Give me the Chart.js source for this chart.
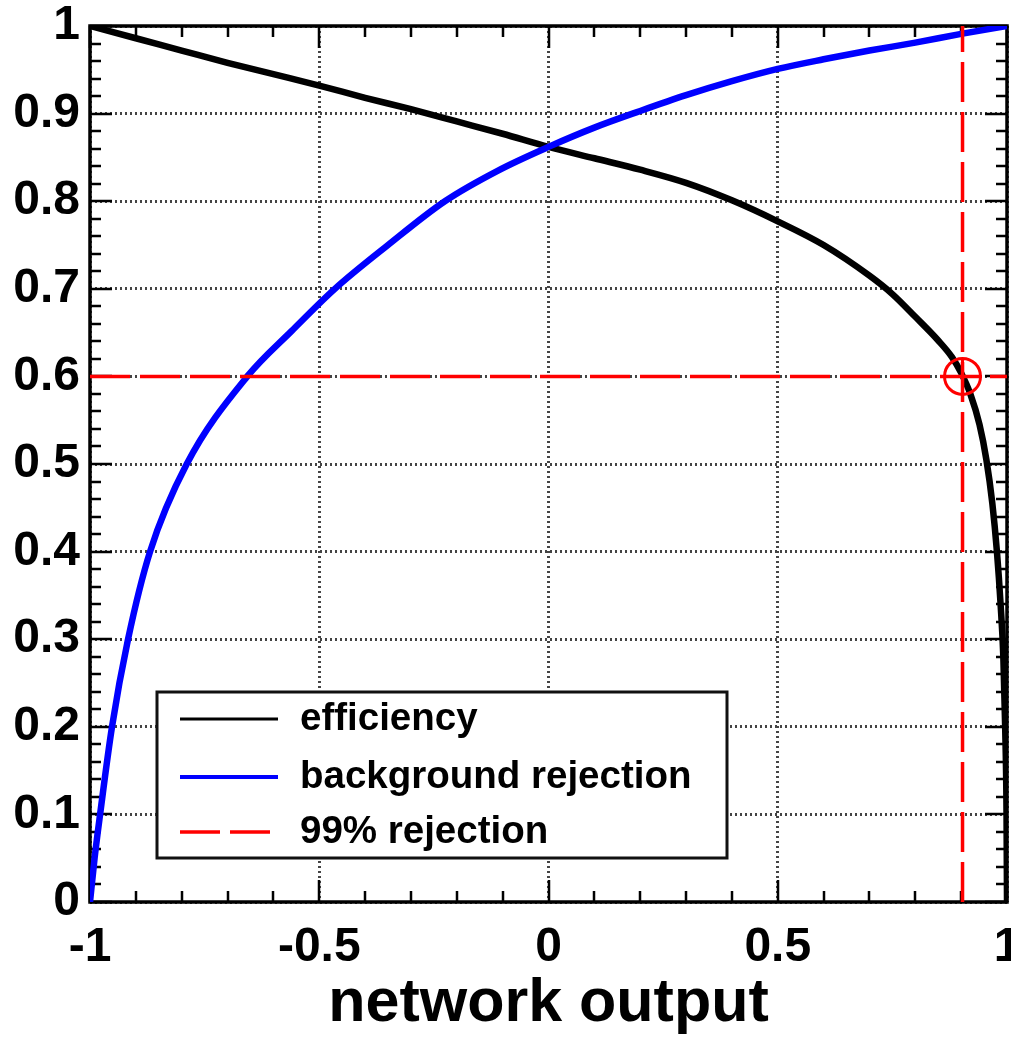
<!DOCTYPE html>
<html>
<head>
<meta charset="utf-8">
<script src="https://cdn.jsdelivr.net/npm/chart.js@4.4.1/dist/chart.umd.min.js"></script>
<style>
  html, body { margin: 0; padding: 0; background: #fff; }
  #roc { display: block; }
</style>
</head>
<body>
<canvas id="roc" width="1011" height="1037"></canvas>
<script>
// signal efficiency vs cut on the network output
const effX = [-1, -0.9, -0.8, -0.7, -0.6, -0.5, -0.4, -0.3, -0.2, -0.1, 0, 0.1, 0.2, 0.3, 0.4, 0.5, 0.6, 0.7, 0.75, 0.8, 0.85, 0.88, 0.9, 0.92, 0.94, 0.955, 0.968, 0.978, 0.986, 0.992, 0.996, 0.999, 1];
const effY = [1, 0.986, 0.972, 0.958, 0.945, 0.932, 0.918, 0.905, 0.891, 0.877, 0.862, 0.849, 0.836, 0.821, 0.801, 0.777, 0.75, 0.715, 0.694, 0.668, 0.641, 0.622, 0.604, 0.58, 0.545, 0.505, 0.455, 0.4, 0.34, 0.28, 0.2, 0.1, 0];

// background rejection vs cut
const rejX = [-1, -0.99, -0.978, -0.952, -0.917, -0.869, -0.789, -0.657, -0.56, -0.466, -0.35, -0.226, -0.11, 0, 0.1, 0.2, 0.3, 0.4, 0.5, 0.6, 0.7, 0.8, 0.9, 1];
const rejY = [0, 0.05, 0.1, 0.2, 0.3, 0.4, 0.5, 0.6, 0.652, 0.7, 0.75, 0.8, 0.835, 0.862, 0.884, 0.903, 0.921, 0.937, 0.951, 0.962, 0.972, 0.981, 0.991, 1];

// working point at 99% rejection
const cutValue = 0.903;
const effAtCut = 0.6;

const xTicks = [-1, -0.5, 0, 0.5, 1];
const seriesNames = ['efficiency', 'background rejection', '99% rejection'];

const FONT = "'Liberation Sans', Arial, Helvetica, sans-serif";
const RED = '#ff0000';
const BLUE = '#0000ff';

function toPoints(xs, ys) {
    return xs.map((v, i) => ({x: v, y: ys[i]}));
}

// frame with inward ticks on all four sides
const frameTicks = {
    id: 'frameTicks',
    beforeDatasetsDraw(chart) {
        const {ctx, chartArea: a, scales: {x, y}} = chart;
        ctx.save();
        ctx.strokeStyle = '#000';
        ctx.lineWidth = 2.5;
        ctx.beginPath();
        for (let i = 0; i <= 20; i++) {
            const px = Math.round(x.getPixelForValue(-1 + i * 0.1));
            const len = i % 5 === 0 ? 22 : 11;
            ctx.moveTo(px, a.bottom); ctx.lineTo(px, a.bottom - len);
            ctx.moveTo(px, a.top); ctx.lineTo(px, a.top + len);
        }
        for (let i = 0; i <= 50; i++) {
            const py = Math.round(y.getPixelForValue(i * 0.02));
            const len = i % 5 === 0 ? 22 : 11;
            ctx.moveTo(a.left, py); ctx.lineTo(a.left + len, py);
            ctx.moveTo(a.right, py); ctx.lineTo(a.right - len, py);
        }
        ctx.stroke();
        ctx.lineWidth = 3.5;
        ctx.strokeRect(a.left, a.top, a.right - a.left, a.bottom - a.top);
        ctx.restore();
    }
};

// circled cross on the working point
const workingPoint = {
    id: 'workingPoint',
    afterDatasetsDraw(chart) {
        const {ctx, scales: {x, y}} = chart;
        const px = x.getPixelForValue(cutValue);
        const py = y.getPixelForValue(effAtCut);
        const r = 18;
        ctx.save();
        ctx.strokeStyle = RED;
        ctx.lineWidth = 3;
        ctx.beginPath();
        ctx.arc(px, py, r, 0, Math.PI * 2);
        ctx.moveTo(px - r, py); ctx.lineTo(px + r, py);
        ctx.moveTo(px, py - r); ctx.lineTo(px, py + r);
        ctx.stroke();
        ctx.restore();
    }
};

// boxed legend inside the plot, lower left
const boxLegend = {
    id: 'boxLegend',
    afterDraw(chart) {
        const ctx = chart.ctx;
        const bx = 157, by = 692, bw = 570, bh = 166;
        ctx.save();
        ctx.fillStyle = '#fff';
        ctx.fillRect(bx, by, bw, bh);
        ctx.strokeStyle = '#111';
        ctx.lineWidth = 3;
        ctx.strokeRect(bx, by, bw, bh);

        const rows = [
            {y: 719, color: '#000', width: 3, dash: []},
            {y: 777, color: BLUE, width: 4, dash: []},
            {y: 832, color: RED, width: 3.5, dash: [40, 10]}
        ];
        rows.forEach((r, i) => {
            ctx.beginPath();
            ctx.strokeStyle = r.color;
            ctx.lineWidth = r.width;
            ctx.setLineDash(r.dash);
            ctx.moveTo(180, r.y);
            ctx.lineTo(278, r.y);
            ctx.stroke();
            ctx.setLineDash([]);
            ctx.fillStyle = '#000';
            ctx.font = 'bold 38.5px ' + FONT;
            ctx.textBaseline = 'middle';
            ctx.textAlign = 'left';
            ctx.fillText(seriesNames[i], 300, r.y);
        });
        ctx.restore();
    }
};

const ctx = document.getElementById('roc').getContext('2d');

new Chart(ctx, {
    type: 'scatter',
    data: {
        datasets: [
            {
                label: seriesNames[2],
                data: [{x: -1, y: effAtCut}, {x: 1, y: effAtCut}],
                showLine: true,
                borderColor: RED,
                borderWidth: 3.5,
                borderDash: [40, 10],
                pointRadius: 0,
                order: 0
            },
            {
                label: seriesNames[2] + ' cut',
                data: [{x: cutValue, y: 0}, {x: cutValue, y: 1}],
                showLine: true,
                borderColor: RED,
                borderWidth: 3.5,
                borderDash: [40, 10],
                pointRadius: 0,
                order: 0
            },
            {
                label: seriesNames[1],
                data: toPoints(rejX, rejY),
                showLine: true,
                borderColor: BLUE,
                borderWidth: 6.5,
                cubicInterpolationMode: 'monotone',
                pointRadius: 0,
                order: 1
            },
            {
                label: seriesNames[0],
                data: toPoints(effX, effY),
                showLine: true,
                borderColor: '#000',
                borderWidth: 6.5,
                cubicInterpolationMode: 'monotone',
                pointRadius: 0,
                order: 2
            }
        ]
    },
    options: {
        responsive: false,
        animation: false,
        devicePixelRatio: 1,
        layout: {padding: {top: 26, right: 4, left: 0, bottom: 0}},
        plugins: {
            legend: {display: false},
            tooltip: {enabled: false}
        },
        scales: {
            x: {
                type: 'linear',
                min: -1,
                max: 1,
                afterBuildTicks: scale => {
                    scale.ticks = xTicks.map(v => ({value: v}));
                },
                afterFit: scale => {
                    scale.height = 135;
                    scale.paddingLeft = 0;
                    scale.paddingRight = 0;
                },
                grid: {color: '#444', lineWidth: 3, drawTicks: false},
                border: {display: false, dash: [2, 3]},
                ticks: {
                    color: '#000',
                    padding: 17,
                    maxRotation: 0,
                    autoSkip: false,
                    font: {family: FONT, size: 48, weight: 'bold'},
                    callback: v => String(Math.round(v * 10) / 10)
                },
                title: {
                    display: true,
                    text: 'network output',
                    color: '#000',
                    font: {family: FONT, size: 61, weight: 'bold'},
                    padding: {top: 0, bottom: -4}
                }
            },
            y: {
                min: 0,
                max: 1,
                afterFit: scale => {
                    scale.width = 90;
                    scale.paddingTop = 0;
                    scale.paddingBottom = 0;
                },
                grid: {color: '#444', lineWidth: 3, drawTicks: false},
                border: {display: false, dash: [2, 3]},
                ticks: {
                    stepSize: 0.1,
                    color: '#000',
                    padding: 10,
                    font: {family: FONT, size: 48, weight: 'bold'},
                    callback: v => String(Math.round(v * 10) / 10)
                }
            }
        }
    },
    plugins: [frameTicks, workingPoint, boxLegend]
});
</script>
</body>
</html>
